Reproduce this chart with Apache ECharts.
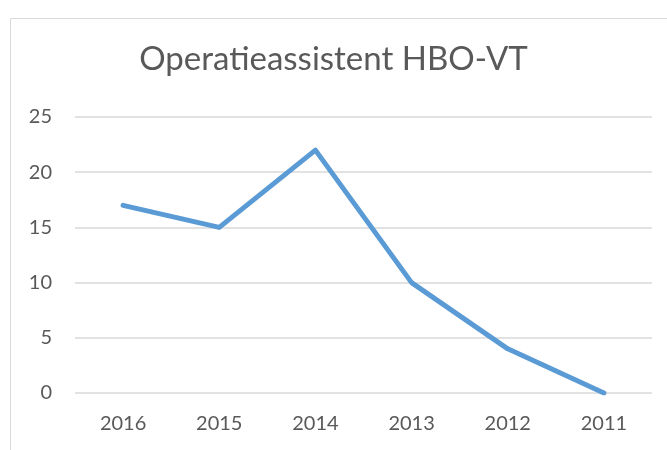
<!DOCTYPE html>
<html>
<head>
<meta charset="utf-8">
<script src="https://cdn.jsdelivr.net/npm/echarts@6/dist/echarts.min.js"></script>
<style>
  html, body { margin: 0; padding: 0; background: #fff; }
  #main { width: 667px; height: 450px; }
</style>
</head>
<body>
<div id="main"></div>
<script>
  // data
  var years = ['2016', '2015', '2014', '2013', '2012', '2011'];
  var counts = [17, 15, 22, 10, 4, 0];
  var titleText = 'Operatieassistent HBO-VT';

  var chart = echarts.init(document.getElementById('main'));
  chart.setOption({
    animation: false,
    textStyle: { fontFamily: 'Lato' },
    title: {
      text: titleText,
      left: 'center',
      top: 38,
      textStyle: { fontFamily: 'Lato', fontSize: 33, fontWeight: 'normal', color: '#595959' }
    },
    // outer chart frame like the Excel chart area
    graphic: [{
      type: 'rect',
      shape: { x: 10.5, y: 18.5, width: 700, height: 500 },
      style: { fill: 'none', stroke: '#d9d9d9', lineWidth: 1 },
      silent: true
    }],
    grid: { left: 75, right: 15, top: 117, bottom: 57 },
    xAxis: {
      type: 'category',
      data: years,
      boundaryGap: true,
      axisLine: { show: false },
      axisTick: { show: false },
      axisLabel: { color: '#595959', fontSize: 20, margin: 21 }
    },
    yAxis: {
      type: 'value',
      min: 0,
      max: 25,
      interval: 5,
      axisLine: { show: false },
      axisTick: { show: false },
      axisLabel: { color: '#595959', fontSize: 20, margin: 23 },
      splitLine: { lineStyle: { color: '#d9d9d9', width: 1.5 } }
    },
    series: [{
      type: 'line',
      data: counts,
      showSymbol: false,
      lineStyle: { color: '#5b9bd5', width: 5, cap: 'round', join: 'round' },
      itemStyle: { color: '#5b9bd5' }
    }]
  });
</script>
</body>
</html>
